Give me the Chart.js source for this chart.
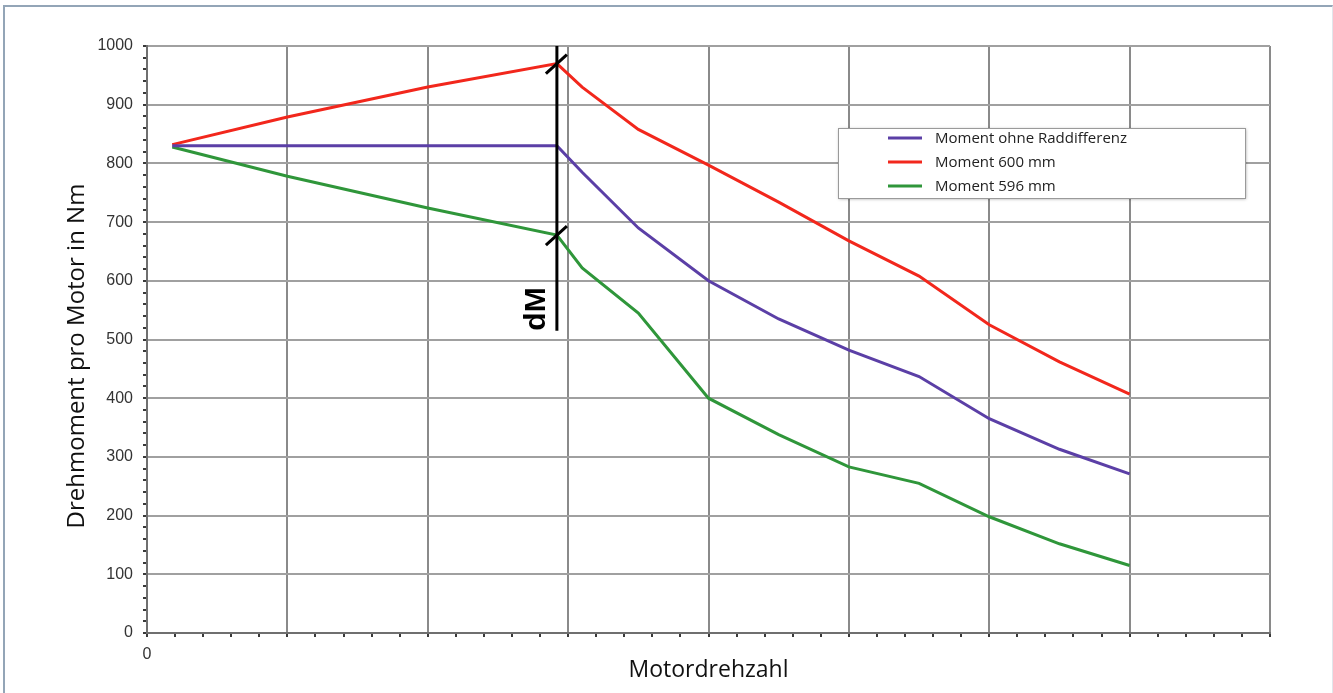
<!DOCTYPE html>
<html lang="de">
<head>
<meta charset="utf-8">
<title>Drehmoment pro Motor</title>
<script src="https://cdn.jsdelivr.net/npm/chart.js@4.4.1/dist/chart.umd.min.js"></script>
<style>
  html, body { margin: 0; padding: 0; background: #fff; overflow: hidden; }
  #wrap { position: relative; width: 1333px; height: 693px; }
  #frame {
    position: absolute; left: 3px; top: 5px; width: 1327px; height: 700px;
    border: 2px solid #93a5b7; border-right: 1px solid #e1e6eb;
    pointer-events: none;
  }
  canvas { position: absolute; left: 0; top: 0; }
</style>
</head>
<body>
<div id="wrap">
  <canvas id="chart" width="1333" height="693"></canvas>
  <div id="frame"></div>
</div>
<script>
// Motor speed in grid units (no scale printed except the origin)
const speed = [0.18, 1.0, 2.0, 2.92, 3.1, 3.5, 4.0, 4.5, 5.0, 5.5, 6.0, 6.5, 7.0];

// Torque per motor in Nm
const momentOhne = [830, 830, 830, 830, 785, 690, 600, 535, 482, 437, 365, 313, 271];
const moment600  = [832, 879, 930, 970, 930, 858, 797, 734, 668, 608, 525, 462, 407];
const moment596  = [828, 778, 724, 678, 622, 545, 400, 338, 283, 255, 198, 152, 115];

const seriesLabels = ["Moment ohne Raddifferenz", "Moment 600 mm", "Moment 596 mm"];
const seriesColors = ["#5b3fa6", "#f2271c", "#2f963a"];

// Y axis: labelled every 100, minor ticks every 20
const yMin = 0, yMax = 1000, yMajor = 100, yMinor = 20;
// X axis: 8 grid cells, minor ticks every 0.2
const xMin = 0, xMax = 8, xMinor = 0.2;

// dM marker: vertical bar at the break point, running down from the top
const breakIndex = 3;
const dmBarBottom = 515;
const dmLabel = "dM";

const yTitle = "Drehmoment pro Motor in Nm";

const isWhole = (v, step) => Math.abs(v / step - Math.round(v / step)) < 1e-6;

function toPoints(values) {
  return values.map((v, i) => ({ x: speed[i], y: v }));
}

// Black dM bar with slash marks where it crosses the red and green curves
const dmMarker = {
  id: 'dmMarker',
  afterDatasetsDraw(chart) {
    const { ctx, scales: { x, y } } = chart;
    const px = x.getPixelForValue(speed[breakIndex]);
    ctx.save();
    ctx.strokeStyle = '#000';
    ctx.lineWidth = 3;
    ctx.beginPath();
    ctx.moveTo(px, y.getPixelForValue(yMax));
    ctx.lineTo(px, y.getPixelForValue(dmBarBottom));
    ctx.stroke();

    [moment600[breakIndex], moment596[breakIndex]].forEach(v => {
      const py = y.getPixelForValue(v);
      ctx.beginPath();
      ctx.moveTo(px - 11, py + 10);
      ctx.lineTo(px + 10, py - 9);
      ctx.stroke();
    });

    ctx.translate(px - 20, y.getPixelForValue(552));
    ctx.rotate(-Math.PI / 2);
    ctx.fillStyle = '#000';
    ctx.font = 'bold 30px "Liberation Sans", Arial, sans-serif';
    ctx.textAlign = 'center';
    ctx.textBaseline = 'middle';
    ctx.fillText(dmLabel, 0, 0);
    ctx.restore();
  }
};

// Rotated y axis title, set a little below the plot's middle
const sideTitle = {
  id: 'sideTitle',
  afterDraw(chart, args, opts) {
    const { ctx } = chart;
    ctx.save();
    ctx.translate(opts.x, opts.y);
    ctx.rotate(-Math.PI / 2);
    ctx.font = '24px "Open Sans", sans-serif';
    ctx.fillStyle = '#111';
    ctx.textAlign = 'center';
    ctx.textBaseline = 'middle';
    ctx.fillText(yTitle, 0, 0);
    ctx.restore();
  }
};

// Boxed legend sitting inside the plot, like the spreadsheet original
const boxLegend = {
  id: 'boxLegend',
  afterDraw(chart, args, opts) {
    const { ctx } = chart;
    const b = opts.box;
    ctx.save();
    ctx.shadowColor = 'rgba(0,0,0,0.35)';
    ctx.shadowBlur = 3;
    ctx.shadowOffsetX = 1;
    ctx.shadowOffsetY = 1;
    ctx.fillStyle = '#fff';
    ctx.fillRect(b.x, b.y, b.w, b.h);
    ctx.shadowColor = 'transparent';
    ctx.strokeStyle = '#9a9a9a';
    ctx.lineWidth = 1;
    ctx.strokeRect(b.x + 0.5, b.y + 0.5, b.w, b.h);

    ctx.font = '15px "Open Sans", sans-serif';
    ctx.textBaseline = 'middle';
    ctx.fillStyle = '#222';
    chart.data.datasets.forEach((ds, i) => {
      const ry = b.y + opts.firstRow + i * opts.rowGap;
      ctx.strokeStyle = ds.borderColor;
      ctx.lineWidth = 3;
      ctx.beginPath();
      ctx.moveTo(b.x + 50, ry);
      ctx.lineTo(b.x + 84, ry);
      ctx.stroke();
      ctx.fillText(ds.label, b.x + 97, ry + 1);
    });
    ctx.restore();
  }
};

const datasets = [momentOhne, moment600, moment596].map((vals, i) => ({
  label: seriesLabels[i],
  data: toPoints(vals),
  borderColor: seriesColors[i],
  backgroundColor: seriesColors[i],
  borderWidth: 3,
  pointRadius: 0,
  tension: 0,
  fill: false
}));

new Chart(document.getElementById('chart'), {
  type: 'line',
  data: { datasets },
  plugins: [dmMarker, sideTitle, boxLegend],
  options: {
    responsive: false,
    animation: false,
    layout: { padding: { left: 0, top: 46, right: 63, bottom: 0 } },
    plugins: {
      legend: { display: false },
      tooltip: { enabled: false },
      sideTitle: { x: 77, y: 356 },
      boxLegend: { box: { x: 838, y: 128, w: 407, h: 70 }, firstRow: 10, rowGap: 24 }
    },
    scales: {
      x: {
        type: 'linear', min: xMin, max: xMax,
        afterFit: s => { s.height = 60; },
        border: { color: '#6f6f6f', width: 2 },
        grid: {
          color: c => isWhole(c.tick.value, 1) ? '#8a8a8a' : 'rgba(0,0,0,0)',
          lineWidth: 2,
          tickColor: '#3a3a3a',
          tickLength: 4,
          tickWidth: 2
        },
        ticks: {
          stepSize: xMinor, autoSkip: false, maxTicksLimit: 100, maxRotation: 0,
          padding: 8, color: '#333',
          font: { family: '"Liberation Sans", Arial, sans-serif', size: 16 },
          callback: v => (Math.abs(v) < 1e-6 ? '0' : '')
        },
        title: {
          display: true, text: 'Motordrehzahl', color: '#111',
          font: { family: '"Open Sans", sans-serif', size: 23 },
          padding: { top: 0, bottom: 9 }
        }
      },
      y: {
        type: 'linear', min: yMin, max: yMax,
        afterFit: s => { s.width = 147; },
        border: { color: '#6f6f6f', width: 2 },
        grid: {
          color: c => isWhole(c.tick.value, yMajor) ? '#a0a0a0' : 'rgba(0,0,0,0)',
          lineWidth: 2,
          tickColor: '#3a3a3a',
          tickLength: 4,
          tickWidth: 2
        },
        ticks: {
          stepSize: yMinor, autoSkip: false, maxTicksLimit: 100,
          padding: 10, color: '#333',
          font: { family: '"Liberation Sans", Arial, sans-serif', size: 16 },
          callback: v => (isWhole(v, yMajor) ? String(Math.round(v)) : '')
        },
        title: { display: false }
      }
    }
  }
});
</script>
</body>
</html>
